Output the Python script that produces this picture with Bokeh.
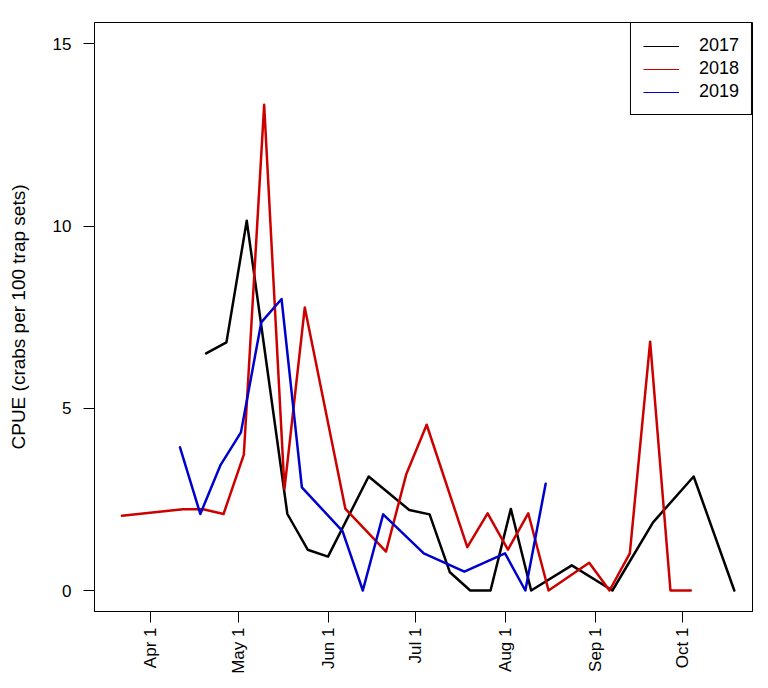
import math
from datetime import datetime
from bokeh.plotting import figure
from bokeh.models import Range1d, FixedTicker, Legend, LegendItem
from bokeh.embed import file_html
from bokeh.resources import INLINE

# ---- data ----
dates_2017 = ["2017-04-20", "2017-04-27", "2017-05-04", "2017-05-18", "2017-05-25",
              "2017-06-01", "2017-06-15", "2017-06-29", "2017-07-06", "2017-07-13",
              "2017-07-20", "2017-07-27", "2017-08-03", "2017-08-10", "2017-08-24",
              "2017-09-07", "2017-09-21", "2017-10-05", "2017-10-19"]
cpue_2017 = [6.51, 6.81, 10.15, 2.10, 1.12, 0.93, 3.13, 2.21, 2.09, 0.50,
             0.0, 0.0, 2.24, 0.0, 0.69, 0.0, 1.87, 3.13, 0.0]

dates_2018 = ["2018-03-22", "2018-04-12", "2018-04-19", "2018-04-26", "2018-05-03",
              "2018-05-10", "2018-05-17", "2018-05-24", "2018-06-07", "2018-06-21",
              "2018-06-28", "2018-07-05", "2018-07-19", "2018-07-26", "2018-08-02",
              "2018-08-09", "2018-08-16", "2018-08-30", "2018-09-06", "2018-09-13",
              "2018-09-20", "2018-09-27", "2018-10-04"]
cpue_2018 = [2.05, 2.23, 2.23, 2.10, 3.73, 13.33, 2.79, 7.77, 2.24, 1.07,
             3.20, 4.55, 1.19, 2.12, 1.12, 2.12, 0.0, 0.76, 0.0, 1.02,
             6.83, 0.0, 0.0]

dates_2019 = ["2019-04-11", "2019-04-18", "2019-04-25", "2019-05-02", "2019-05-09",
              "2019-05-16", "2019-05-23", "2019-06-06", "2019-06-13", "2019-06-20",
              "2019-07-04", "2019-07-18", "2019-08-01", "2019-08-08", "2019-08-15"]
cpue_2019 = [3.93, 2.10, 3.45, 4.34, 7.36, 8.00, 2.83, 1.63, 0.0, 2.09,
             1.02, 0.52, 1.02, 0.0, 2.93]

years = ["2017", "2018", "2019"]
colors = ["#000000", "#CD0000", "#0000CD"]

month_tick_dates = ["2017-04-01", "2017-05-01", "2017-06-01", "2017-07-01",
                    "2017-08-01", "2017-09-01", "2017-10-01"]
month_labels = ["Apr 1", "May 1", "Jun 1", "Jul 1", "Aug 1", "Sep 1", "Oct 1"]
y_ticks = [0, 5, 10, 15]
y_title = "CPUE (crabs per 100 trap sets)"


def doy(s):
    return datetime.strptime(s, "%Y-%m-%d").timetuple().tm_yday


FONT = "Liberation Sans"

p = figure(width=760, height=680, output_backend="svg", toolbar_location=None,
           x_range=Range1d(71.54, 298.27), y_range=Range1d(-0.576, 15.59),
           min_border_left=94, min_border_right=8, min_border_top=22,
           min_border_bottom=69)
p.grid.visible = False
p.background_fill_color = "white"
p.border_fill_color = "white"
p.outline_line_color = "black"
p.outline_line_width = 1
p.outline_line_alpha = 1.0

series = [(dates_2017, cpue_2017), (dates_2018, cpue_2018), (dates_2019, cpue_2019)]
dummies = []
for (ds, vs), c in zip(series, colors):
    p.line([doy(d) for d in ds], vs, line_color=c, line_width=2.5,
           line_join="round", line_cap="round")
    dummies.append(p.line([float("nan")], [float("nan")], line_color=c, line_width=1))

ticks = [doy(d) for d in month_tick_dates]
xa = p.xaxis[0]
xa.ticker = FixedTicker(ticks=ticks)
xa.major_label_overrides = {t: l for t, l in zip(ticks, month_labels)}
xa.major_label_orientation = math.pi / 2
xa.minor_tick_line_color = None
xa.major_tick_in = 0
xa.major_tick_out = 11
xa.major_label_standoff = 5
xa.major_label_text_font = FONT
xa.major_label_text_font_size = "17px"
xa.major_label_text_color = "black"
xa.axis_line_color = "black"
xa.major_tick_line_color = "black"

ya = p.yaxis[0]
ya.ticker = FixedTicker(ticks=y_ticks)
ya.major_label_orientation = "horizontal"
ya.minor_tick_line_color = None
ya.major_tick_in = 0
ya.major_tick_out = 11
ya.major_label_standoff = 12
ya.major_label_text_font = FONT
ya.major_label_text_font_size = "17px"
ya.major_label_text_color = "black"
ya.axis_line_color = "black"
ya.major_tick_line_color = "black"
ya.axis_label = y_title
ya.axis_label_text_font = FONT
ya.axis_label_text_font_size = "19px"
ya.axis_label_text_font_style = "normal"
ya.axis_label_text_color = "black"
ya.axis_label_standoff = 21

legend = Legend(items=[LegendItem(label=y, renderers=[r]) for y, r in zip(years, dummies)],
                location="top_right", margin=0, padding=12, spacing=2,
                glyph_width=36, glyph_height=20, label_standoff=20, label_width=40,
                label_height=20, label_text_font=FONT, label_text_font_size="18px",
                label_text_color="black", border_line_color="black",
                border_line_width=1, border_line_alpha=1.0,
                background_fill_color="white", background_fill_alpha=1.0)
p.add_layout(legend)

open("out.html", "w").write(file_html(p, INLINE))
